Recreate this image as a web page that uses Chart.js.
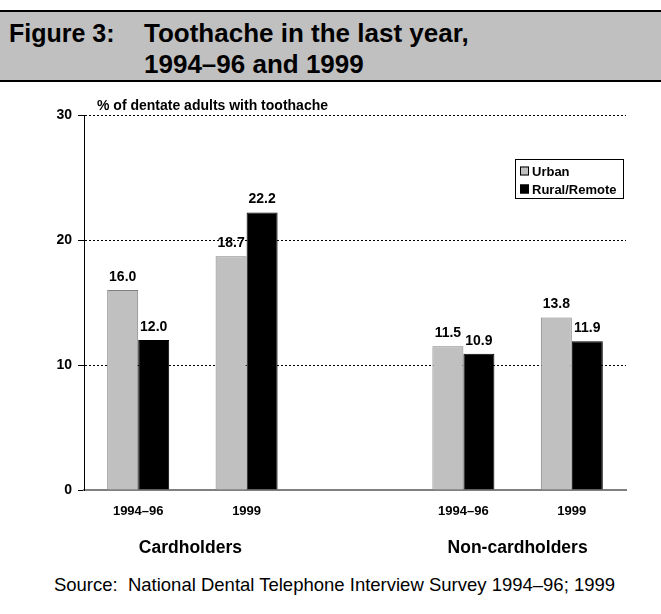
<!DOCTYPE html>
<html lang="en">
<head>
<meta charset="UTF-8">
<title>Figure 3: Toothache in the last year</title>
<script src="https://cdn.jsdelivr.net/npm/chart.js@4.4.0/dist/chart.umd.min.js"></script>
<style>
  body { margin: 0; background: #fff; font-family: "Liberation Sans", Arial, sans-serif; }
  .page { position: relative; width: 661px; height: 614px; overflow: hidden; }
  .header {
    position: absolute; left: 0; top: 10px; width: 661px; height: 68px;
    background: #c0c0c0; border-top: 2px solid #000; border-bottom: 2px solid #000;
  }
  .t { position: absolute; font-weight: bold; font-size: 26px; line-height: 30px; color: #000; white-space: nowrap; }
  #chart { position: absolute; left: 0; top: 84px; }
  .source { position: absolute; left: 4px; top: 575px; width: 661px; text-align: center; font-size: 18.5px; line-height: 20px; color: #000; }
</style>
</head>
<body>
<div class="page">
  <div class="header">
    <div class="t" style="left:9px; top:6px; font-size:25px;">Figure 3:</div>
    <div class="t" style="left:144px; top:6px;">Toothache in the last year,</div>
    <div class="t" style="left:144px; top:37px;">1994–96 and 1999</div>
  </div>
  <canvas id="chart" width="661" height="486"></canvas>
  <div class="source">Source:&nbsp;&nbsp;National Dental Telephone Interview Survey 1994–96; 1999</div>
</div>
<script>
  // data (middle slot is the gap between the two groups)
  const categories = ['1994–96', '1999', '', '1994–96', '1999'];
  const urban = [16.0, 18.7, null, 11.5, 13.8];
  const ruralRemote = [12.0, 22.2, null, 10.9, 11.9];
  const groups = ['Cardholders', 'Non-cardholders'];
  const groupSlots = [[0, 1], [3, 4]];
  const yTicks = [0, 10, 20, 30];
  const yTitle = '% of dentate adults with toothache';

  const FONT = '"Liberation Sans", Arial, sans-serif';

  // value labels above each bar
  const valueLabels = {
    id: 'valueLabels',
    afterDatasetsDraw(chart) {
      const ctx = chart.ctx;
      ctx.save();
      ctx.font = 'bold 14px ' + FONT;
      ctx.fillStyle = '#000';
      ctx.textAlign = 'center';
      ctx.textBaseline = 'middle';
      chart.data.datasets.forEach((ds, i) => {
        chart.getDatasetMeta(i).data.forEach((bar, j) => {
          if (ds.data[j] == null) return;
          ctx.fillText(ds.data[j].toFixed(1), bar.x, bar.y - 13);
        });
      });
      ctx.restore();
    }
  };

  // axis title, group names and the boxed legend
  const extras = {
    id: 'extras',
    afterDraw(chart) {
      const ctx = chart.ctx;
      const area = chart.chartArea;
      const x = chart.scales.x;
      ctx.save();
      ctx.fillStyle = '#000';
      ctx.textBaseline = 'middle';

      ctx.font = 'bold 14px ' + FONT;
      ctx.textAlign = 'left';
      ctx.fillText(yTitle, area.left + 13, area.top - 9);

      ctx.font = 'bold 17.5px ' + FONT;
      ctx.textAlign = 'center';
      groups.forEach((g, i) => {
        const a = x.getPixelForValue(groupSlots[i][0]);
        const b = x.getPixelForValue(groupSlots[i][1]);
        ctx.fillText(g, (a + b) / 2 - (i === 0 ? 2 : 0), area.bottom + 58);
      });

      // legend
      const bx = area.right - 111, by = area.top + 44, bw = 108, bh = 39;
      ctx.fillStyle = '#fff';
      ctx.fillRect(bx, by, bw, bh);
      ctx.strokeStyle = '#000';
      ctx.lineWidth = 1;
      ctx.strokeRect(bx + 0.5, by + 0.5, bw, bh);
      ctx.font = 'bold 13px ' + FONT;
      ctx.textAlign = 'left';
      chart.data.datasets.forEach((ds, i) => {
        const cy = by + 12 + i * 18;
        ctx.fillStyle = ds.backgroundColor;
        ctx.fillRect(bx + 5, cy - 4.5, 9, 9);
        ctx.strokeStyle = '#000';
        ctx.strokeRect(bx + 5.5, cy - 4, 8, 8);
        ctx.fillStyle = '#000';
        ctx.fillText(ds.label, bx + 17, cy + 1);
      });
      ctx.restore();
    }
  };

  const ctx = document.getElementById('chart').getContext('2d');
  const chart = new Chart(ctx, {
    type: 'bar',
    data: {
      labels: categories,
      datasets: [
        {
          label: 'Urban',
          data: urban,
          backgroundColor: '#c0c0c0',
          borderColor: '#808080',
          borderWidth: 1
        },
        {
          label: 'Rural/Remote',
          data: ruralRemote,
          backgroundColor: '#000000',
          borderColor: '#000000',
          borderWidth: 1
        }
      ]
    },
    options: {
      responsive: false,
      animation: false,
      devicePixelRatio: 1,
      categoryPercentage: 0.572,
      barPercentage: 1,
      layout: { padding: { left: 0, right: 35, top: 31, bottom: 0 } },
      plugins: {
        legend: { display: false },
        tooltip: { enabled: false }
      },
      scales: {
        x: {
          grid: { display: false, drawTicks: false },
          border: { display: true, color: '#808080', width: 2 },
          ticks: {
            color: '#000',
            font: { family: FONT, size: 13, weight: 'bold' },
            padding: 14,
            maxRotation: 0,
            autoSkip: false
          },
          afterFit(scale) { scale.height = 80; }
        },
        y: {
          min: 0,
          max: 30,
          afterBuildTicks(scale) { scale.ticks = yTicks.map(v => ({ value: v })); },
          grid: {
            color: c => (c.tick && c.tick.value === 0 ? 'rgba(0,0,0,0)' : '#000'),
            tickColor: '#000',
            tickLength: 6,
            lineWidth: 1
          },
          border: { display: true, color: '#000', width: 1, dash: [2, 2] },
          ticks: {
            color: '#000',
            font: { family: FONT, size: 14, weight: 'bold' },
            padding: 6
          },
          afterFit(scale) { scale.width = 84; }
        }
      }
    },
    plugins: [valueLabels, extras]
  });
</script>
</body>
</html>
